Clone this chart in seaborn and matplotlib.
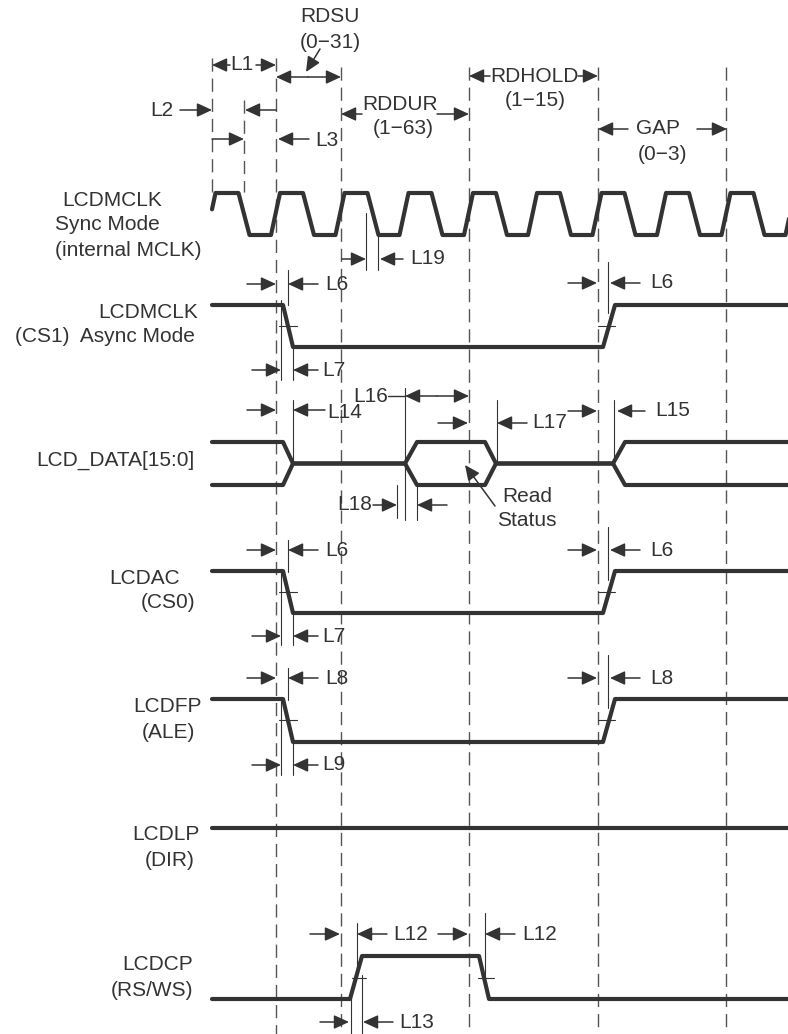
import numpy as np
import pandas as pd
import matplotlib
matplotlib.use("Agg")
import matplotlib.pyplot as plt
import seaborn as sns

INK = "#333333"
DASH = "#555555"

# --- waveform data (pixel units) ---
# rising-edge centres of the internal MCLK
mclk_rise = [211, 275.5, 340, 404, 468.5, 532.5, 597, 661.5, 726, 790]

# (x, level) pairs for the control lines, level 1 = high
ctl_x = [212, 283, 293, 603, 615, 788]
ctl_lvl = [1, 1, 0, 0, 1, 1]
dir_x = [212, 788]
dir_lvl = [1, 1]
rs_x = [212, 350, 362, 479, 489, 788]
rs_lvl = [0, 0, 1, 1, 0, 0]
# data bus: 1 = driven, 0.5 = between reads
bus_x = [212, 283, 293, 405, 417, 485, 496, 613, 625, 788]
bus_lvl = [1, 1, 0.5, 0.5, 1, 1, 0.5, 0.5, 1, 1]

# signal rows: name -> (high y, low y)
rows = {
    "mclk": (193, 235),
    "cs1": (305, 347),
    "data": (442, 485),
    "cs0": (571, 613),
    "ale": (699, 742),
    "dir": (828, 870),
    "rs": (956, 999),
}

# dashed reference lines: x, top, bottom
grid_x = [212, 244, 276, 341, 469, 598, 726]
grid_top = [58, 100, 58, 67, 67, 67, 67]
grid_bot = [192, 192, 1034, 1034, 1034, 1034, 1034]

# thin measurement ticks (x, y0, y1)
ticks_v = [
    (288, 270, 305), (281, 300, 380), (293, 347, 380), (608, 262, 313),
    (288, 540, 572), (281, 571, 645), (293, 613, 645), (608, 527, 580),
    (288, 668, 700), (281, 699, 775), (293, 742, 775), (608, 655, 708),
    (293, 400, 463), (405, 388, 520), (497, 400, 463), (614, 400, 463),
    (397, 485, 518), (417, 485, 520),
    (366, 213, 270), (378, 235, 270),
    (357, 923, 975), (362, 975, 1034), (351, 992, 1034), (485, 913, 977),
]
ticks_h = [
    (279, 297, 326), (598, 615, 326), (279, 297, 592), (598, 615, 592),
    (279, 297, 720), (598, 615, 720), (352, 366, 978), (478, 494, 978),
]

# horizontal arrows: tail x, head x, y
arrows = [
    (230, 212, 65), (256, 276, 65), (308, 276, 77), (308, 341, 77),
    (180, 212, 110), (276, 245, 110), (212, 244, 139), (309, 278, 139),
    (362, 341, 114), (437, 469, 114), (490, 469, 76), (578, 598, 76),
    (628, 598, 129), (697, 727, 129),
    (342, 366, 259), (403, 380, 259),
    (247, 276, 284), (318, 288, 284), (252, 281, 370), (318, 293, 370),
    (568, 597, 283), (640, 610, 283),
    (247, 276, 410), (325, 293, 410), (437, 405, 396), (437, 469, 396),
    (438, 468, 423), (527, 497, 423), (568, 597, 411), (645, 617, 411),
    (373, 397, 505), (447, 417, 505),
    (247, 276, 550), (318, 288, 550), (252, 281, 636), (318, 293, 636),
    (568, 597, 550), (640, 610, 550),
    (247, 276, 678), (318, 288, 678), (252, 281, 765), (318, 293, 765),
    (568, 597, 678), (640, 610, 678),
    (310, 340, 934), (387, 357, 934), (438, 468, 934), (515, 485, 934),
    (320, 349, 1022), (393, 363, 1022),
]
pointers = [((320, 49), (306, 72)), ((495, 506), (465, 465))]

# labels: x, y, text, alignment
labels = [
    (330, 17, "RDSU", "center"), (330, 42, "(0\u221231)", "center"),
    (242, 65, "L1", "center"), (162, 110, "L2", "center"),
    (315, 140, "L3", "left"),
    (400, 104, "RDDUR", "center"), (403, 128, "(1\u221263)", "center"),
    (534, 76, "RDHOLD", "center"), (535, 100, "(1\u221215)", "center"),
    (658, 129, "GAP", "center"), (663, 155, "(0\u22123)", "center"),
    (410, 259, "L19", "left"),
    (325, 284, "L6", "left"), (322, 370, "L7", "left"), (650, 283, "L6", "left"),
    (327, 413, "L14", "left"), (353, 396, "L16", "left"),
    (532, 423, "L17", "left"), (655, 411, "L15", "left"), (372, 505, "L18", "right"),
    (527, 497, "Read", "center"), (527, 520, "Status", "center"),
    (325, 550, "L6", "left"), (322, 636, "L7", "left"), (650, 550, "L6", "left"),
    (325, 678, "L8", "left"), (322, 765, "L9", "left"), (650, 678, "L8", "left"),
    (393, 934, "L12", "left"), (522, 934, "L12", "left"), (399, 1022, "L13", "left"),
]
names = [
    (62, 200, "LCDMCLK", "left"), (55, 225, "Sync Mode", "left"),
    (55, 250, "(internal MCLK)", "left"),
    (198, 313, "LCDMCLK", "right"), (195, 337, "(CS1)  Async Mode", "right"),
    (195, 460, "LCD_DATA[15:0]", "right"),
    (180, 578, "LCDAC", "right"), (195, 603, "(CS0)", "right"),
    (202, 707, "LCDFP", "right"), (195, 732, "(ALE)", "right"),
    (200, 835, "LCDLP", "right"), (195, 860, "(DIR)", "right"),
    (193, 965, "LCDCP", "right"), (193, 990, "(RS/WS)", "right"),
]

sns.set_theme(style="white")
plt.rcParams["font.family"] = ["Liberation Sans", "DejaVu Sans"]
plt.rcParams["lines.scale_dashes"] = False


def level_to_y(row, lvl):
    hi, lo = rows[row]
    return lo + (hi - lo) * np.asarray(lvl, dtype=float)


# build the clock outline from its edges
ck_x, ck_l = [], []
for m in mclk_rise:
    ck_x += [m - 4.5, m + 4.5, m + 27.5, m + 38.5]
    ck_l += [0, 1, 1, 0]
ck_x = np.array(ck_x)
ck_l = np.array(ck_l, dtype=float)
start = np.interp(212, ck_x, ck_l)
keep = ck_x > 212
ck_x = np.r_[212, ck_x[keep]]
ck_l = np.r_[start, ck_l[keep]]

waves = [
    ("mclk", ck_x, level_to_y("mclk", ck_l)),
    ("cs1", ctl_x, level_to_y("cs1", ctl_lvl)),
    ("bus_top", bus_x, level_to_y("data", bus_lvl)),
    ("bus_bot", bus_x, level_to_y("data", 1 - np.array(bus_lvl))),
    ("cs0", ctl_x, level_to_y("cs0", ctl_lvl)),
    ("ale", ctl_x, level_to_y("ale", ctl_lvl)),
    ("dir", dir_x, level_to_y("dir", dir_lvl)),
    ("rs", rs_x, level_to_y("rs", rs_lvl)),
]
df = pd.concat(
    [pd.DataFrame({"x": x, "y": y, "sig": s, "order": range(len(x))}) for s, x, y in waves],
    ignore_index=True,
)

fig = plt.figure(figsize=(7.88, 10.34), dpi=100)
ax = fig.add_axes([0, 0, 1, 1])

# dashed reference lines
for gx, t, b in zip(grid_x, grid_top, grid_bot):
    ax.plot([gx, gx], [t, b], color=DASH, lw=1.0, ls=(0, (9.5, 5)), zorder=1)

for x, y0, y1 in ticks_v:
    ax.plot([x, x], [y0, y1], color=INK, lw=0.8, zorder=2)
for x0, x1, y in ticks_h:
    ax.plot([x0, x1], [y, y], color=INK, lw=0.8, zorder=2)
ax.plot([388, 405], [396, 396], color=INK, lw=1.0, zorder=2)

sns.lineplot(data=df, x="x", y="y", units="sig", estimator=None, sort=False,
             color=INK, lw=3.0, ax=ax, legend=False, zorder=3)

arrow_kw = dict(arrowstyle="-|>,head_length=0.65,head_width=0.3", color=INK,
                lw=1.1, shrinkA=0, shrinkB=0, mutation_scale=14)
for x0, x1, y in arrows:
    ax.annotate("", xy=(x1, y), xytext=(x0, y), arrowprops=arrow_kw, zorder=4)
for tail, head in pointers:
    ax.annotate("", xy=head, xytext=tail, arrowprops=arrow_kw, zorder=4)

for x, y, s, ha in labels + names:
    ax.text(x, y, s, ha=ha, va="center", fontsize=15, color=INK, zorder=5)

ax.set_xlim(0, 788)
ax.set_ylim(1034, 0)
ax.axis("off")
fig.savefig("out.png", dpi=100, facecolor="white")
